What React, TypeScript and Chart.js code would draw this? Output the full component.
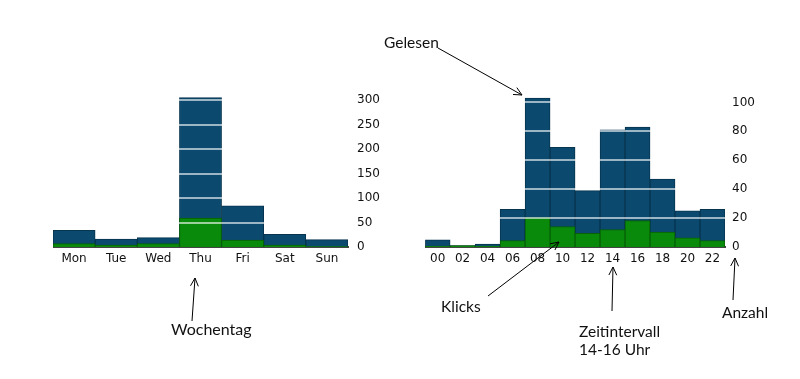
import React, { useEffect, useRef } from "react";
import { Chart, registerables } from "chart.js";
Chart.register(...registerables);

const dayLabels = ["Mon", "Tue", "Wed", "Thu", "Fri", "Sat", "Sun"];
const dayGelesen = [34, 16, 19, 305, 84, 26, 15];
const dayKlicks = [7, 4, 7, 59, 14, 4, 1];

const hourLabels = ["00", "02", "04", "06", "08", "10", "12", "14", "16", "18", "20", "22"];
const hourGelesen = [5, 1, 2, 26, 103, 69, 39, 81, 83, 47, 25, 26];
const hourKlicks = [0.7, 1, 0.7, 4.4, 20.4, 14.2, 9.4, 12.1, 18.3, 10.3, 6.4, 4.4];

const BLUE = "#0b4a6e";
const BLUE_EDGE = "#07344f";
const GREEN = "#0a8a0a";
const GREEN_EDGE = "#066006";
const FONT = { family: "'DejaVu Sans', Verdana, sans-serif", size: 12 };

const gridOverlay = {
  id: "gridOverlay",
  afterDatasetsDraw(chart: any) {
    const y = chart.scales.y;
    const { left, right } = chart.chartArea;
    const ctx = chart.ctx;
    ctx.save();
    ctx.strokeStyle = "rgba(255,255,255,0.6)";
    ctx.lineWidth = 2;
    y.ticks.forEach((t: any) => {
      if (t.value <= 0) return;
      const py = Math.round(y.getPixelForValue(t.value));
      ctx.beginPath();
      ctx.moveTo(left, py);
      ctx.lineTo(right, py);
      ctx.stroke();
    });
    ctx.restore();
  },
};

function makeConfig(labels: string[], total: number[], clicks: number[], max: number, step: number, pad: number): any {
  return {
    type: "bar",
    data: {
      labels,
      datasets: [
        {
          label: "Klicks",
          data: clicks,
          backgroundColor: GREEN,
          borderColor: GREEN_EDGE,
          borderWidth: 1,
          grouped: false,
          barPercentage: 1,
          categoryPercentage: 1,
        },
        {
          label: "Gelesen",
          data: total,
          backgroundColor: BLUE,
          borderColor: BLUE_EDGE,
          borderWidth: 1,
          grouped: false,
          barPercentage: 1,
          categoryPercentage: 1,
        },
      ],
    },
    options: {
      responsive: false,
      animation: false,
      layout: { padding: 0 },
      plugins: { legend: { display: false }, tooltip: { enabled: false } },
      scales: {
        x: {
          grid: { display: false, drawTicks: false },
          border: { display: true, color: "#444", width: 2 },
          ticks: { padding: 5, font: FONT, color: "#111", maxRotation: 0, autoSkip: false },
          afterFit(s: any) {
            s.height = 25;
          },
        },
        y: {
          position: "right",
          min: 0,
          max,
          grid: { display: false, drawTicks: false },
          border: { display: false },
          ticks: { stepSize: step, includeBounds: false, padding: pad, font: FONT, color: "#111" },
          afterFit(s: any) {
            s.width = 40;
          },
        },
      },
    },
    plugins: [gridOverlay],
  };
}

function BarChart(props: { cfg: any; left: number; top: number; width: number; height: number }) {
  const ref = useRef<HTMLCanvasElement>(null);
  useEffect(() => {
    const chart = new Chart(ref.current as HTMLCanvasElement, props.cfg);
    return () => chart.destroy();
  }, []);
  return (
    <canvas
      ref={ref}
      width={props.width}
      height={props.height}
      style={{ position: "absolute", left: props.left, top: props.top, width: props.width, height: props.height }}
    />
  );
}

const arrows = [
  [438, 48, 522, 95],
  [488, 296, 559, 242],
  [612, 311, 613, 267],
  [733, 300, 735, 258],
  [192, 321, 195, 278],
];

function Arrow({ a }: { a: number[] }) {
  const [x1, y1, x2, y2] = a;
  const ang = Math.atan2(y2 - y1, x2 - x1);
  const L = 9;
  const s = 0.45;
  const p1 = [x2 - L * Math.cos(ang - s), y2 - L * Math.sin(ang - s)];
  const p2 = [x2 - L * Math.cos(ang + s), y2 - L * Math.sin(ang + s)];
  return (
    <g stroke="#000" strokeWidth={1} fill="none">
      <line x1={x1} y1={y1} x2={x2} y2={y2} />
      <polyline points={`${p1[0]},${p1[1]} ${x2},${y2} ${p2[0]},${p2[1]}`} />
    </g>
  );
}

export default function App() {
  const leftCfg = makeConfig(dayLabels, dayGelesen, dayKlicks, 310, 50, 9);
  const rightCfg = makeConfig(hourLabels, hourGelesen, hourKlicks, 105, 20, 7);
  const tf = { fontFamily: "Lato, 'Open Sans', sans-serif", fontSize: 15.5, fill: "#111" };
  return (
    <div style={{ position: "absolute", left: 0, top: 0, width: 800, height: 379, background: "#fff", overflow: "hidden" }}>
      <BarChart cfg={leftCfg} left={53} top={79} width={335} height={193} />
      <BarChart cfg={rightCfg} left={425} top={81} width={340} height={191} />
      <svg width={800} height={379} style={{ position: "absolute", left: 0, top: 0 }}>
        {arrows.map((a, i) => (
          <Arrow key={i} a={a} />
        ))}
        <text x={384} y={48} {...tf}>Gelesen</text>
        <text x={441} y={312} {...tf}>Klicks</text>
        <text x={722} y={318} {...tf}>Anzahl</text>
        <text x={579} y={337} {...tf}>Zeitintervall</text>
        <text x={579} y={355} {...tf}>14-16 Uhr</text>
        <text x={171} y={335} {...tf} fontSize={16}>Wochentag</text>
      </svg>
    </div>
  );
}
